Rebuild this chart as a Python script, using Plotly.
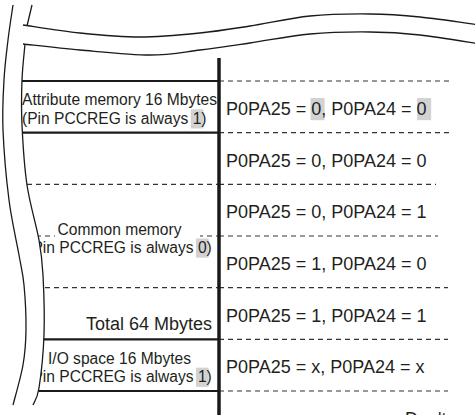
import plotly.graph_objects as go

# ---------------- data ----------------
bit_rows = ["P0PA25 = 0, P0PA24 = 0", "P0PA25 = 0, P0PA24 = 0", "P0PA25 = 0, P0PA24 = 1",
            "P0PA25 = 1, P0PA24 = 0", "P0PA25 = 1, P0PA24 = 1", "P0PA25 = x, P0PA24 = x"]
bit_row_index = [0, 1, 2, 3, 4, 5]
bit_shaded = [[9, 21], [], [], [], [], []]          # shaded character positions

area_titles = ["Attribute memory 16 Mbytes", "Common memory", "I/O space 16 Mbytes"]
area_notes = ["(Pin PCCREG is always 1)", "(Pin PCCREG is always 0)", "(Pin PCCREG is always 1)"]
area_first_row = [0, 1, 5]
area_last_row = [1, 5, 6]
area_align = ["left", "center", "center"]
total_label = "Total 64 Mbytes"
total_row = 4
footnote = "Don't care"

# ---------------- geometry / style ----------------
W, H = 475, 415
ROW_H = 51.67          # pixels per row
Y0 = 81.0              # pixel position of row boundary 0
DIV_X = 219
LEFT_X = 22
CENTER_X = 119.5
RIGHT_TEXT_X = 226
TOTAL_X = 212
FS_R = 18
FS_L = 15.6
FONT = "Liberation Sans, Arial, sans-serif"
TXT = "#231f20"
SHADE = "#d2d2d2"
DASH_END = [450, 450, 436, 438, 448, 448, 448]


def ry(p):
    return (p - Y0) / ROW_H


def dp(p):
    return p / ROW_H


ARIAL = {'(': 333, ')': 333, 'P': 667, 'i': 222, 'n': 556, ' ': 278, 'C': 722, 'R': 722,
         'E': 667, 'G': 778, 's': 500, 'a': 556, 'l': 222, 'w': 722, 'y': 500, '0': 556,
         '1': 556, '2': 556, '4': 556, '5': 556, 'A': 667, '=': 584, ',': 278, 'x': 500}


def tw(s, fs):
    return sum(ARIAL.get(c, 556) for c in s) * fs / 1000.0


fig = go.Figure()
shapes = []


def add_text(x, baseline_row, s, fs, align):
    pos = {"left": "middle right", "center": "middle center", "right": "middle left"}[align]
    fig.add_trace(go.Scatter(
        x=[x], y=[baseline_row - dp(0.25 * fs)], mode="text", text=[s],
        textposition=pos, textfont=dict(family=FONT, size=fs, color=TXT),
        hoverinfo="skip", showlegend=False, cliponaxis=True))


def shade(x_start, baseline_row, s, idx, fs):
    x0 = x_start + tw(s[:idx], fs) - 2
    x1 = x_start + tw(s[:idx + 1], fs) + 2
    shapes.append(dict(type="rect", layer="below", xref="x", yref="y",
                       x0=x0, x1=x1, y0=baseline_row - dp(0.95 * fs),
                       y1=baseline_row + dp(0.28 * fs),
                       fillcolor=SHADE, line=dict(width=0)))


# row separators: dashed on the right for all boundaries
for k in range(7):
    shapes.append(dict(type="line", layer="below", xref="x", yref="y",
                       x0=DIV_X, x1=DASH_END[k], y0=k, y1=k,
                       line=dict(color="#333", width=1.2, dash="5px,4px")))
# left side: solid at area boundaries, dashed inside common memory
solid = sorted(set(area_first_row + area_last_row))
for k in range(7):
    if k in solid:
        shapes.append(dict(type="line", layer="below", xref="x", yref="y",
                           x0=0, x1=DIV_X, y0=k, y1=k,
                           line=dict(color="#1a1a1a", width=2.2)))
    else:
        shapes.append(dict(type="line", layer="below", xref="x", yref="y",
                           x0=0, x1=DIV_X, y0=k, y1=k,
                           line=dict(color="#333", width=1.2, dash="5px,4px")))

# white background behind the "Common memory" title
shapes.append(dict(type="rect", layer="below", xref="x", yref="y",
                   x0=55, x1=200, y0=ry(229), y1=ry(243),
                   fillcolor="white", line=dict(width=0)))

# right column texts
for r, s, sh in zip(bit_row_index, bit_rows, bit_shaded):
    base = r + 0.5 + dp(8.3)
    for i in sh:
        shade(RIGHT_TEXT_X, base, s, i, FS_R)
    add_text(RIGHT_TEXT_X, base, s, FS_R, "left")

# left area texts
LINE_GAP = 18.8
for t, note, a, b, al in zip(area_titles, area_notes, area_first_row, area_last_row, area_align):
    mid = (a + b) / 2.0
    b1 = mid - dp(1.5)
    b2 = b1 + dp(LINE_GAP)
    if al == "left":
        x = LEFT_X
        start2 = LEFT_X
    else:
        x = CENTER_X
        start2 = CENTER_X - tw(note, FS_L) / 2
    add_text(x, b1, t, FS_L, al)
    shade(start2, b2, note, len(note) - 2, FS_L)
    add_text(x, b2, note, FS_L, al)

add_text(TOTAL_X, total_row + 1 - dp(9), total_label, FS_R, "right")
add_text(405, ry(425), footnote, FS_R, "left")


# ---------------- break curves ----------------
def smooth(pts):
    P = [(x, ry(y)) for x, y in pts]
    d = f"M{P[0][0]:.2f},{P[0][1]:.4f}"
    for i in range(len(P) - 1):
        p0 = P[i - 1] if i > 0 else P[i]
        p1, p2 = P[i], P[i + 1]
        p3 = P[i + 2] if i + 2 < len(P) else P[i + 1]
        c1 = (p1[0] + (p2[0] - p0[0]) / 6, p1[1] + (p2[1] - p0[1]) / 6)
        c2 = (p2[0] - (p3[0] - p1[0]) / 6, p2[1] - (p3[1] - p1[1]) / 6)
        d += (f" C{c1[0]:.2f},{c1[1]:.4f} {c2[0]:.2f},{c2[1]:.4f}"
              f" {p2[0]:.2f},{p2[1]:.4f}")
    return d


upper_wave = [(23, 25), (80, 33), (140, 37), (200, 33), (250, 26), (310, 16),
              (370, 14), (420, 17), (480, 25)]
lower_wave = [(23, 44), (80, 50), (150, 55), (200, 50), (250, 43), (310, 34),
              (370, 32), (420, 35), (480, 44)]
outer_left = [(13, 5), (8, 40), (4, 80), (3, 130), (9, 200), (19, 255), (24, 285),
              (26, 330), (23, 365), (13, 405)]
inner_top = [(32, 5), (27, 26)]
inner_left = [(25, 44), (22, 80), (22, 125), (27, 185), (39, 240), (43, 275),
              (44, 335), (39, 388), (33, 405)]

mask = f"M-10,{ry(44):.4f} L" + smooth(inner_left)[1:] + f" L33,{ry(430):.4f} L-10,{ry(430):.4f} Z"
shapes.append(dict(type="path", layer="above", xref="x", yref="y", path=mask,
                   fillcolor="white", line=dict(width=0)))

for pts in [upper_wave, lower_wave, outer_left, inner_top, inner_left]:
    shapes.append(dict(type="path", layer="above", xref="x", yref="y", path=smooth(pts),
                       line=dict(color="#1a1a1a", width=1.3)))

# vertical divider
shapes.append(dict(type="line", layer="above", xref="x", yref="y",
                   x0=DIV_X, x1=DIV_X, y0=ry(58), y1=ry(430),
                   line=dict(color="#1a1a1a", width=3.5)))

fig.update_layout(
    width=W, height=H, margin=dict(l=0, r=0, t=0, b=0),
    paper_bgcolor="white", plot_bgcolor="white", showlegend=False,
    xaxis=dict(visible=False, range=[0, W], fixedrange=True),
    yaxis=dict(visible=False, range=[ry(H), ry(0)], fixedrange=True),
    shapes=shapes,
)

fig.write_html("out.html", config={"displayModeBar": False, "staticPlot": True},
               post_script="document.body.style.margin='0';document.body.style.padding='0';"
                           "document.body.style.overflow='hidden';")
